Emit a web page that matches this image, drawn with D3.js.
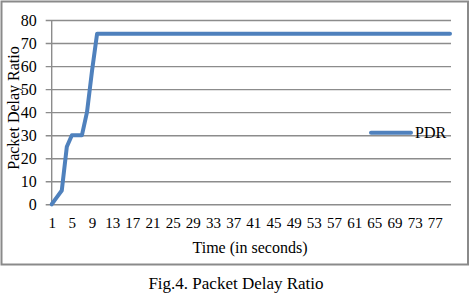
<!DOCTYPE html>
<html><head><meta charset="utf-8">
<script src="https://cdn.jsdelivr.net/npm/d3@7"></script>
<style>body{margin:0;background:#fff}svg{display:block}text{font-family:"Liberation Serif","Times New Roman",serif;fill:#000}</style>
</head><body><svg id="c" width="470" height="293"></svg>
<script>
const categories = d3.range(1, 81);
const pdrValues = [0, 3, 6, 25, 30, 30, 30, 40, 58, 74].concat(d3.range(70).map(() => 74));
const yTicks = [0, 10, 20, 30, 40, 50, 60, 70, 80];
const xTickLabels = d3.range(1, 80, 4);
const seriesName = "PDR";
const yTitle = "Packet Delay Ratio";
const xTitle = "Time (in seconds)";
const caption = "Fig.4. Packet Delay Ratio";

(function () {
const svg = d3.select("#c");
const pl = 51.7, pr = 450, pt = 20, pb = 204.3;
const x = d3.scalePoint().domain(categories).range([pl, pr]);
const y = d3.scaleLinear().domain([0, 80]).range([pb, pt]);

svg.append("rect").attr("x", 1.5).attr("y", 1.5).attr("width", 466.5).attr("height", 263)
  .attr("fill", "#fff").attr("stroke", "#8a8a8a").attr("stroke-width", 2);

const yAxis = d3.axisLeft(y).tickValues(yTicks).tickSize(-(pr - pl + 1)).tickPadding(0).tickSizeOuter(0);
const gy = svg.append("g").attr("transform", `translate(${pl},0)`).call(yAxis);
gy.select(".domain").remove();
gy.selectAll(".tick line").attr("x1", -6).attr("stroke", "#8c8c8c").attr("stroke-width", 1.4);
gy.selectAll(".tick text").attr("x", -15).style("font-size", "16px")
  .style("font-family", '"Liberation Serif","Times New Roman",serif').attr("fill", "#000");
svg.append("line").attr("x1", pl).attr("x2", pl).attr("y1", pt).attr("y2", pb)
  .attr("stroke", "#8c8c8c").attr("stroke-width", 1.4);

const xAxis = d3.axisBottom(x).tickValues(xTickLabels).tickSize(0).tickPadding(13);
const gx = svg.append("g").attr("transform", `translate(0,${pb})`).call(xAxis);
gx.select(".domain").remove();
gx.selectAll(".tick text").style("font-size", "15px")
  .style("font-family", '"Liberation Serif","Times New Roman",serif').attr("fill", "#000");

const line = d3.line().x((d, i) => x(categories[i])).y(d => y(d));
svg.append("path").datum(pdrValues).attr("d", line).attr("fill", "none")
  .attr("stroke", "#4F81BD").attr("stroke-width", 4).attr("stroke-linejoin", "round").attr("stroke-linecap", "round");

svg.append("line").attr("x1", 371).attr("x2", 411).attr("y1", 132.7).attr("y2", 132.7)
  .attr("stroke", "#4F81BD").attr("stroke-width", 4).attr("stroke-linecap", "round");
svg.append("text").attr("x", 415).attr("y", 138).style("font-size", "16px").text(seriesName);

svg.append("text").attr("transform", "translate(19,108) rotate(-90)").attr("text-anchor", "middle")
  .style("font-size", "16px").text(yTitle);
svg.append("text").attr("x", 250).attr("y", 253).attr("text-anchor", "middle").style("font-size", "16px").text(xTitle);
svg.append("text").attr("x", 236).attr("y", 289).attr("text-anchor", "middle").style("font-size", "17px").text(caption);
})();
</script></body></html>
